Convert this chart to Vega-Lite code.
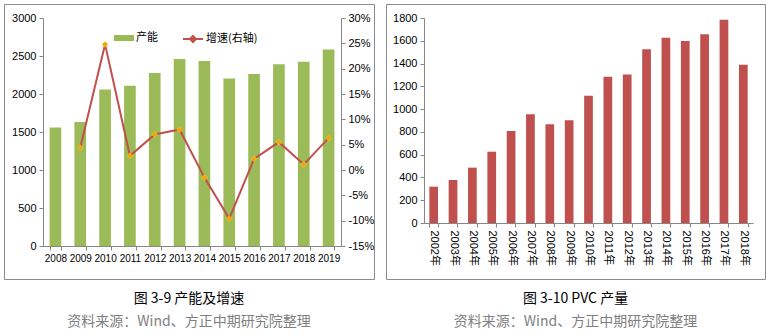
{
  "$schema": "https://vega.github.io/schema/vega-lite/v6.json",
  "padding": {"left": 3, "top": 3, "right": 0, "bottom": 0},
  "background": "white",
  "spacing": 5,
  "config": {
    "view": {"stroke": "#8c8c8c", "strokeWidth": 1},
    "font": "Liberation Sans, Noto Sans CJK SC",
    "axis": {
      "grid": false,
      "domainColor": "#868686",
      "tickColor": "#868686",
      "labelColor": "#000000",
      "labelFontSize": 11,
      "labelFont": "Liberation Sans, Noto Sans CJK SC",
      "tickSize": 4,
      "labelPadding": 3
    },
    "legend": {"labelFont": "Noto Sans CJK SC", "labelFontSize": 11, "labelColor": "#000000", "labelOffset": 2},
    "title": {
      "font": "Noto Sans CJK SC",
      "fontSize": 14,
      "fontWeight": "normal",
      "color": "#000000",
      "subtitleFont": "Noto Sans CJK SC",
      "subtitleFontSize": 14,
      "subtitleColor": "#7f7f7f",
      "subtitlePadding": 9,
      "orient": "bottom",
      "anchor": "middle",
      "offset": 13
    }
  },
  "hconcat": [
    {
      "width": 370,
      "height": 275,
      "title": {"text": "图 3-9 产能及增速", "subtitle": "资料来源：Wind、方正中期研究院整理"},
      "data": {"values": [
        {"year": "2008", "capacity": 1560, "growth": null},
        {"year": "2009", "capacity": 1630, "growth": 0.044},
        {"year": "2010", "capacity": 2060, "growth": 0.248},
        {"year": "2011", "capacity": 2110, "growth": 0.028},
        {"year": "2012", "capacity": 2275, "growth": 0.070},
        {"year": "2013", "capacity": 2460, "growth": 0.080},
        {"year": "2014", "capacity": 2435, "growth": -0.015},
        {"year": "2015", "capacity": 2205, "growth": -0.096},
        {"year": "2016", "capacity": 2262, "growth": 0.022},
        {"year": "2017", "capacity": 2390, "growth": 0.055},
        {"year": "2018", "capacity": 2425, "growth": 0.011},
        {"year": "2019", "capacity": 2585, "growth": 0.063}
      ]},
      "layer": [
        {
          "mark": {"type": "bar"},
          "encoding": {
            "x": {
              "field": "year", "type": "ordinal",
              "scale": {"range": [39, 337], "paddingInner": 0.53, "paddingOuter": 0.265},
              "axis": {"orient": "bottom", "offset": -33, "labelAngle": 0, "tickBand": "extent", "title": null, "labelFontSize": 10}
            },
            "y": {
              "field": "capacity", "type": "quantitative",
              "scale": {"domain": [0, 3000], "range": [242, 14], "nice": false, "zero": false},
              "axis": {"orient": "left", "offset": -39, "values": [0, 500, 1000, 1500, 2000, 2500, 3000], "format": "d", "title": null}
            },
            "fill": {
              "datum": "产能",
              "scale": {"range": ["#9BBB59"]},
              "legend": {
                "orient": "none", "legendX": 110, "legendY": 24, "title": null,
                "symbolType": "M-1,-0.3H1V0.3H-1Z", "symbolSize": 400, "symbolStrokeWidth": 0
              }
            }
          }
        },
        {
          "encoding": {
            "x": {"field": "year", "type": "ordinal"},
            "y": {
              "field": "growth", "type": "quantitative",
              "scale": {"domain": [-0.15, 0.30], "range": [242, 14], "nice": false, "zero": false},
              "axis": {"orient": "right", "offset": -33, "values": [-0.15, -0.10, -0.05, 0, 0.05, 0.10, 0.15, 0.20, 0.25, 0.30], "format": ".0%", "labelExpr": "replace(datum.label, '\u2212', '-')", "title": null}
            }
          },
          "layer": [
            {
              "mark": {"type": "line", "strokeWidth": 2},
              "encoding": {
                "stroke": {
                  "datum": "增速(右轴)",
                  "scale": {"range": ["#C0504D"]},
                  "legend": {
                    "orient": "none", "legendX": 178, "legendY": 24, "title": null,
                    "symbolType": "M-1,0H1M0,-0.3L0.3,0L0,0.3L-0.3,0Z", "symbolSize": 400, "symbolStrokeWidth": 2,
                    "symbolFillColor": "#F5A20F"
                  }
                }
              }
            },
            {
              "mark": {"type": "point", "shape": "diamond", "filled": true, "fill": "#F5A20F", "stroke": "#FFD21F", "strokeWidth": 0.5, "size": 35, "opacity": 1}
            }
          ]
        }
      ],
      "resolve": {"scale": {"y": "independent"}, "axis": {"y": "independent"}}
    },
    {
      "width": 379,
      "height": 275,
      "title": {"text": "图 3-10 PVC 产量", "subtitle": "资料来源：Wind、方正中期研究院整理"},
      "data": {"values": [
        {"year": "2002年", "output": 319},
        {"year": "2003年", "output": 377},
        {"year": "2004年", "output": 486},
        {"year": "2005年", "output": 626},
        {"year": "2006年", "output": 808},
        {"year": "2007年", "output": 954},
        {"year": "2008年", "output": 866},
        {"year": "2009年", "output": 902},
        {"year": "2010年", "output": 1118},
        {"year": "2011年", "output": 1285},
        {"year": "2012年", "output": 1305},
        {"year": "2013年", "output": 1525},
        {"year": "2014年", "output": 1627},
        {"year": "2015年", "output": 1598},
        {"year": "2016年", "output": 1657},
        {"year": "2017年", "output": 1785},
        {"year": "2018年", "output": 1390}
      ]},
      "mark": {"type": "bar", "color": "#C0504D"},
      "encoding": {
        "x": {
          "field": "year", "type": "ordinal",
          "scale": {"range": [38, 367], "paddingInner": 0.55, "paddingOuter": 0.275},
          "axis": {"orient": "bottom", "offset": -56, "labelAngle": 90, "tickBand": "extent", "title": null, "labelFontSize": 11}
        },
        "y": {
          "field": "output", "type": "quantitative",
          "scale": {"domain": [0, 1800], "range": [219, 14], "nice": false},
          "axis": {"orient": "left", "offset": -38, "values": [0, 200, 400, 600, 800, 1000, 1200, 1400, 1600, 1800], "format": "d", "title": null}
        }
      }
    }
  ]
}
